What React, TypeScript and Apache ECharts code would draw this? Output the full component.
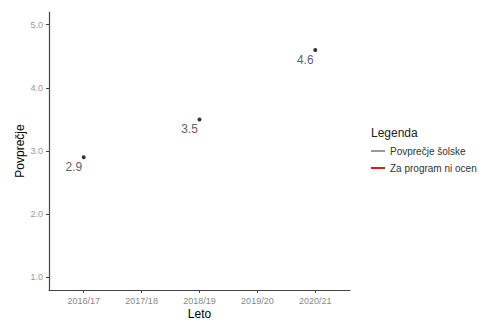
import React, { useEffect, useRef } from "react";
import * as echarts from "echarts";

const categories = ["2016/17", "2017/18", "2018/19", "2019/20", "2020/21"];
const pointCategories = ["2016/17", "2018/19", "2020/21"];
const pointValues = [2.9, 3.5, 4.6];
const yTicks = [1, 2, 3, 4, 5];
const legendNames = ["Povprečje šolske", "Za program ni ocen"];
const legendColors = ["#999999", "#e31a1c"];

export default function App() {
  const ref = useRef<HTMLDivElement>(null);
  useEffect(() => {
    if (!ref.current) return;
    const chart = echarts.init(ref.current, undefined, { renderer: "svg" });
    const data = pointCategories.map((c, i) => [categories.indexOf(c), pointValues[i]]);
    const xIdx = categories.map((_, i) => i);
    chart.setOption({
      animation: false,
      backgroundColor: "#ffffff",
      textStyle: { fontFamily: "Liberation Sans, Arial, sans-serif" },
      title: {
        text: "Legenda",
        left: 366,
        top: 122,
        textStyle: { fontSize: 12, fontWeight: "normal", color: "#222" },
      },
      legend: {
        orient: "vertical",
        left: 366,
        top: 141,
        itemGap: 7,
        itemWidth: 14,
        itemHeight: 2,
        icon: "rect",
        data: legendNames,
        textStyle: { fontSize: 10, color: "#333" },
      },
      grid: { left: 49, right: 132, top: 12, bottom: 30, containLabel: false, outerBoundsMode: "none" },
      xAxis: {
        type: "value",
        min: -0.6,
        max: 4.6,
        name: "Leto",
        nameLocation: "middle",
        nameGap: 18,
        nameMoveOverlap: false,
        nameTextStyle: { fontSize: 12, color: "#000", verticalAlign: "top" },
        splitLine: { show: false },
        axisLine: { onZero: false, lineStyle: { color: "#444", width: 1.2 } },
        axisTick: { customValues: xIdx, length: 3, lineStyle: { color: "#444" } },
        axisLabel: {
          customValues: xIdx,
          formatter: (v: number) => categories[Math.round(v)] ?? "",
          fontSize: 9,
          color: "#888",
          margin: 6,
        },
      },
      yAxis: {
        type: "value",
        min: 0.8,
        max: 5.2,
        name: "Povprečje",
        nameLocation: "middle",
        nameGap: 23,
        nameMoveOverlap: false,
        nameRotate: 90,
        nameTextStyle: { fontSize: 12, color: "#000" },
        splitLine: { show: false },
        axisLine: { show: true, onZero: false, lineStyle: { color: "#444", width: 1.2 } },
        axisTick: { show: true, customValues: yTicks, length: 3, lineStyle: { color: "#444" } },
        axisLabel: {
          customValues: yTicks,
          formatter: (v: number) => v.toFixed(1),
          fontSize: 9,
          color: "#999",
          margin: 6,
        },
      },
      series: [
        {
          type: "scatter",
          name: "points",
          data,
          symbolSize: 4,
          itemStyle: { color: "#000" },
          label: {
            show: true,
            position: "inside",
            offset: [-10, 10],
            formatter: (p: any) => p.value[1].toFixed(1),
            fontSize: 12,
            color: "#333",
            textBorderWidth: 0,
          },
        },
        ...legendNames.map((n, i) => ({
          type: "line",
          name: n,
          data: [],
          itemStyle: { color: legendColors[i] },
          lineStyle: { color: legendColors[i] },
        })),
      ],
    });
    return () => chart.dispose();
  }, []);
  return <div ref={ref} style={{ width: 482, height: 320, position: "absolute", left: 0, top: 0 }} />;
}
